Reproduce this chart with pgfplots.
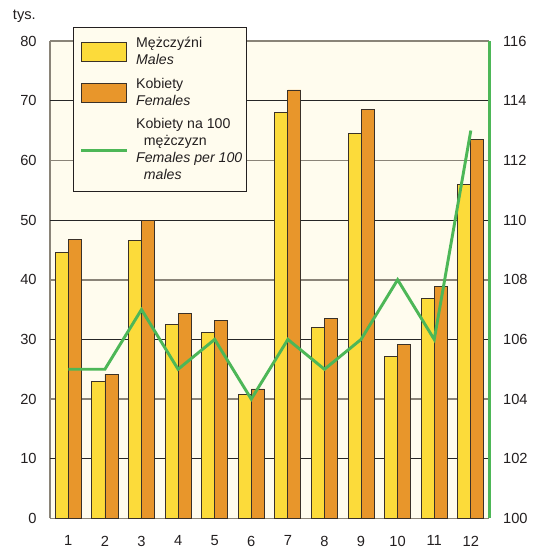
\documentclass[border=0pt]{standalone}
\usepackage{pgfplots}
\pgfplotsset{compat=1.18}
\usepackage{fontspec}
\setmainfont{Liberation Sans}
\definecolor{cream}{HTML}{FFFCEE}
\definecolor{myyellow}{HTML}{FCDB3A}
\definecolor{myorange}{HTML}{E8962B}
\definecolor{mygreen}{HTML}{4DB757}
\definecolor{outl}{HTML}{3A3128}
\definecolor{gridgray}{HTML}{8A8478}
\definecolor{txt}{HTML}{231F20}
\begin{document}
\begin{tikzpicture}
\pgfplotsset{every axis/.append style={
  scale only axis, width=329.25pt, height=358pt,
  xmin=0.5, xmax=12.5,
  tick label style={font=\fontsize{11}{13}\selectfont, text=txt},
  /pgf/number format/assume math mode=true,
  major tick length=0pt,
}}
\begin{axis}[
  ymin=0, ymax=80,
  ytick={0,20,...,80},
  extra y ticks={10,30,50,70},
  extra y tick style={grid style={black!85, line width=0.6pt}},
  ymajorgrids,
  grid style={gridgray, line width=1.2pt},
  xtick={1,...,12},
  axis line style={gridgray, line width=0.9pt},
  axis x line*=bottom, axis y line*=left,
  axis background/.style={fill=cream},
  yticklabel style={xshift=-6.5pt},
  xticklabel style={yshift=-9.5pt},
  ybar=0pt, bar width=9.75pt,
  legend style={at={(0.0524,1.0293)}, anchor=north west, fill=cream, draw=txt, line width=0.7pt,
    font=\fontsize{10.6}{12.7}\selectfont, text=txt, row sep=4.5pt,
    cells={align=left}, inner xsep=1pt, inner ysep=5.5pt},
  legend cell align=left,
]
\addplot[fill=myyellow, draw=outl, line width=0.6pt,
  legend image code/.code={\draw[fill=myyellow, draw=outl, line width=0.6pt] (5pt,-7pt) rectangle (39pt,7pt);\path[draw=none,fill=none] (0pt,0pt) -- (44pt,0pt);}]
  coordinates {(1,44.5) (2,23) (3,46.6) (4,32.5) (5,31.2) (6,20.8) (7,68) (8,32) (9,64.5) (10,27.2) (11,36.8) (12,56)};
\addlegendentry{Mężczyźni\\\textit{Males}}
\addplot[fill=myorange, draw=outl, line width=0.6pt,
  legend image code/.code={\draw[fill=myorange, draw=outl, line width=0.6pt] (5pt,-7pt) rectangle (39pt,7pt);\path[draw=none,fill=none] (0pt,0pt) -- (44pt,0pt);}]
  coordinates {(1,46.8) (2,24.2) (3,50) (4,34.3) (5,33.2) (6,21.7) (7,71.8) (8,33.5) (9,68.5) (10,29.2) (11,38.8) (12,63.5)};
\addlegendentry{Kobiety\\\textit{Females}}
\addlegendimage{legend image code/.code={\draw[mygreen, line width=2.2pt] (5pt,0pt) -- (39pt,0pt);\path[draw=none,fill=none] (0pt,0pt) -- (44pt,0pt);}}
\addlegendentry{Kobiety na 100\\\hspace{0.55em}mężczyzn\\\textit{Females per 100}\\\hspace{0.55em}\textit{males}}
\end{axis}
\begin{axis}[
  ymin=100, ymax=116, ytick={100,102,...,116},
  axis y line*=right, axis x line=none,
  y axis line style={mygreen, line width=2.2pt},
  yticklabel style={xshift=7pt},
]
\addplot[mygreen, line width=2.2pt, sharp plot] coordinates {(1,105) (2,105) (3,107) (4,105) (5,106) (6,104) (7,106) (8,105) (9,106) (10,108) (11,106) (12,113)};
\end{axis}
\node[anchor=base west, font=\fontsize{11}{13}\selectfont, text=txt, inner sep=0pt] at (-28pt,374pt) {tys.};
\pgfresetboundingbox
\path (-37.5pt,-24.4pt) rectangle (367.5pt,388.75pt);
\end{tikzpicture}
\end{document}
